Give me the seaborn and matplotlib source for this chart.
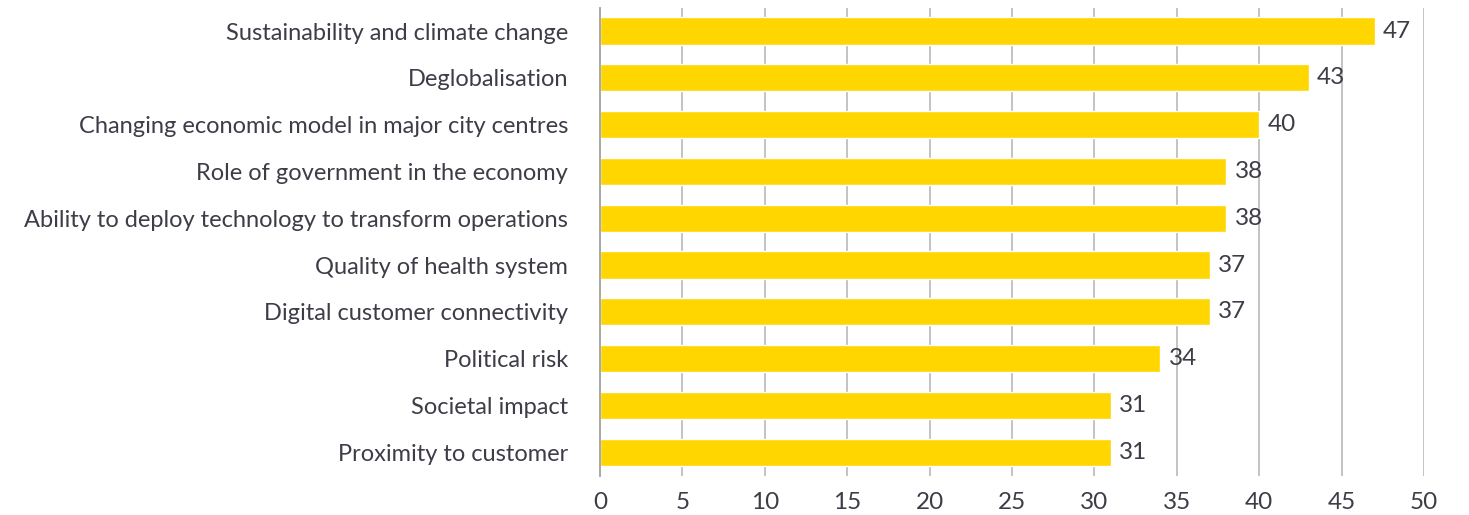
import matplotlib
matplotlib.use("Agg")
import matplotlib.pyplot as plt
import seaborn as sns
import pandas as pd

categories = [
    "Sustainability and climate change",
    "Deglobalisation",
    "Changing economic model in major city centres",
    "Role of government in the economy",
    "Ability to deploy technology to transform operations",
    "Quality of health system",
    "Digital customer connectivity",
    "Political risk",
    "Societal impact",
    "Proximity to customer",
]
values = [47, 43, 40, 38, 38, 37, 37, 34, 31, 31]
x_ticks = [0, 5, 10, 15, 20, 25, 30, 35, 40, 45, 50]

sns.set_theme(style="white")
plt.rcParams["font.family"] = ["Lato", "DejaVu Sans"]

text_color = "#3d3d48"
bar_color = "#FFD600"
grid_color = "#c3c3c3"

df = pd.DataFrame({"category": categories, "value": values})

fig = plt.figure(figsize=(14.69, 5.15), dpi=100)
ax = fig.add_axes([600 / 1469, 1 - 475.6 / 515, 824 / 1469, 468 / 515])

sns.barplot(data=df, x="value", y="category", color=bar_color,
            saturation=1, width=0.58, ax=ax, zorder=3)

ax.set_xlim(0, 50)
ax.set_ylim(9.5, -0.5)
ax.set_xticks(x_ticks)
ax.set_xticklabels([str(t) for t in x_ticks])
ax.set_xlabel("")
ax.set_ylabel("")

ax.xaxis.grid(True, color=grid_color, linewidth=1.4, zorder=0)
ax.yaxis.grid(False)
for side in ["top", "right", "bottom"]:
    ax.spines[side].set_visible(False)
ax.spines["left"].set_color("#a8a8a8")
ax.spines["left"].set_linewidth(1.4)
ax.spines["left"].set_zorder(4)

ax.tick_params(axis="x", length=0, pad=12, labelsize=17.5, labelcolor=text_color)
ax.tick_params(axis="y", length=0, pad=23, labelsize=17, labelcolor=text_color)

for container in ax.containers:
    ax.bar_label(container, labels=[str(v) for v in values], padding=6,
                 fontsize=17.5, color=text_color, zorder=5)

fig.savefig("out.png", dpi=100, facecolor="white")
